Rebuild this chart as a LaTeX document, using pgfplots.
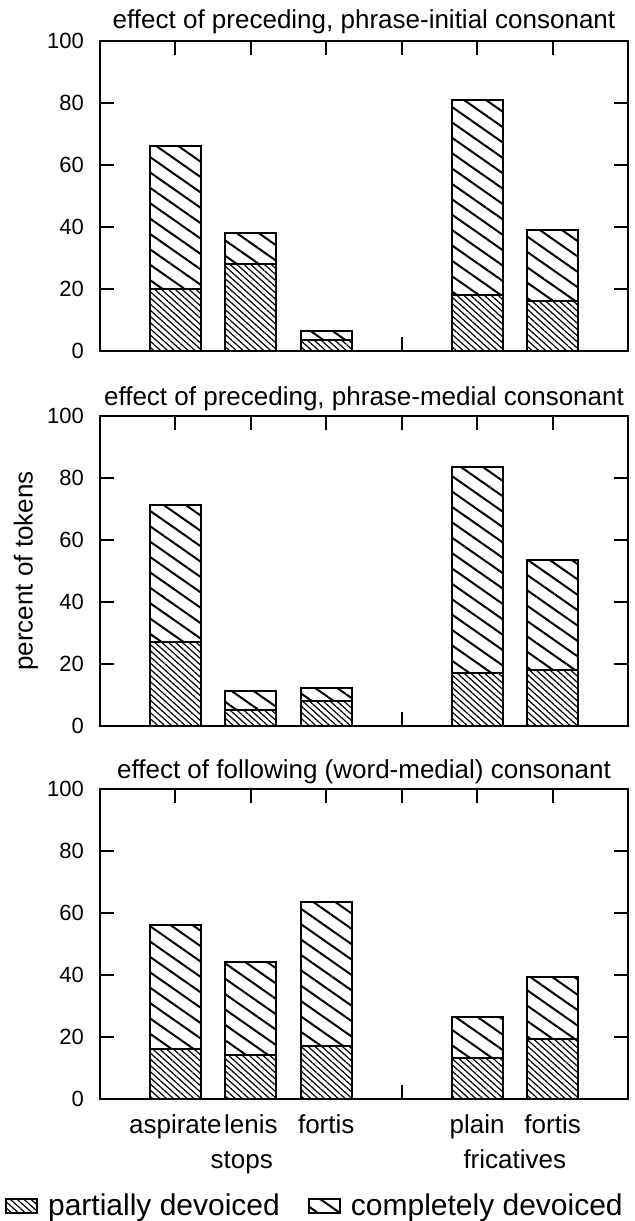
\documentclass[border=0pt]{standalone}
\usepackage{fontspec}
\setmainfont{Liberation Sans}
\usepackage{pgfplots}
\pgfplotsset{compat=1.18}
\usetikzlibrary{patterns.meta}

\pgfplotstableread{
x partial complete
1 20   46
2 28   10
3 3.6  3
5 18   63
6 16   23
}\panelA
\pgfplotstableread{
x partial complete
1 27.2 44.1
2 5.2  6.2
3 8.1  4.3
5 17   66.4
6 18   35.4
}\panelB
\pgfplotstableread{
x partial complete
1 16   40.2
2 14.3 30
3 17.2 46.2
5 13.2 13.1
6 19.2 20
}\panelC

\pgfplotsset{
  panel/.style={
    scale only axis, width=264pt, height=155pt,
    anchor=south west,
    xmin=0, xmax=7, ymin=0, ymax=100,
    xtick={1,2,3,4,5,6}, xticklabels={},
    ytick={0,20,40,60,80,100},
    tick pos=both, yticklabel pos=left,
    tick align=inside,
    major tick length=7pt,
    every tick/.style={black, line width=1pt},
    axis line style={line width=1pt},
    ybar stacked, bar width=25.6pt,
    /pgf/number format/assume math mode=true,
    yticklabel style={font=\fontsize{11}{13}\selectfont, xshift=-4.5pt},
    clip=false,
  },
  partial/.style={draw=black, line width=1pt, fill=white,
    postaction={pattern={Lines[angle=-42,distance=2.3pt,line width=0.6pt]}}},
  complete/.style={draw=black, line width=1pt, fill=white,
    postaction={pattern={Lines[angle=-35,distance=6.3pt,line width=1pt]}}},
}

\begin{document}
\begin{tikzpicture}[font=\fontsize{13}{15}\selectfont]
\useasboundingbox (0,0) rectangle (317pt,610.5pt);

\begin{axis}[panel, at={(50pt,435pt)}]
\addplot[partial] table[x=x,y=partial] {\panelA};
\addplot[complete] table[x=x,y=complete] {\panelA};
\end{axis}

\begin{axis}[panel, at={(50pt,247.5pt)}]
\addplot[partial] table[x=x,y=partial] {\panelB};
\addplot[complete] table[x=x,y=complete] {\panelB};
\end{axis}

\begin{axis}[panel, at={(50pt,61pt)},
  legend columns=2,
  legend style={draw=none, fill=none, at={(0.409,-0.345)}, anchor=center,
    font=\fontsize{15}{17}\selectfont,
    /tikz/every odd column/.append style={column sep=3pt},
    /tikz/every even column/.append style={column sep=12pt}},
  legend image code/.code={\draw[#1] (0pt,-3.7pt) rectangle (15.5pt,3.7pt);},
]
\addplot[partial] table[x=x,y=partial] {\panelC};
\addplot[complete] table[x=x,y=complete] {\panelC};
\legend{partially devoiced, completely devoiced}
\end{axis}

\node[anchor=base] at (182pt,596pt) {effect of preceding, phrase-initial consonant};
\node[anchor=base] at (182pt,407.5pt) {effect of preceding, phrase-medial consonant};
\node[anchor=base] at (182pt,221pt) {effect of following (word-medial) consonant};
\node[rotate=90] at (13pt,325pt) {percent of tokens};

\node[anchor=base] at (87.7pt,43.5pt) {aspirate};
\node[anchor=base] at (125.4pt,43.5pt) {lenis};
\node[anchor=base] at (163.1pt,43.5pt) {fortis};
\node[anchor=base] at (238.6pt,43.5pt) {plain};
\node[anchor=base] at (276.3pt,43.5pt) {fortis};
\node[anchor=base] at (120.9pt,26.5pt) {stops};
\node[anchor=base] at (257.4pt,26.5pt) {fricatives};
\end{tikzpicture}
\end{document}
